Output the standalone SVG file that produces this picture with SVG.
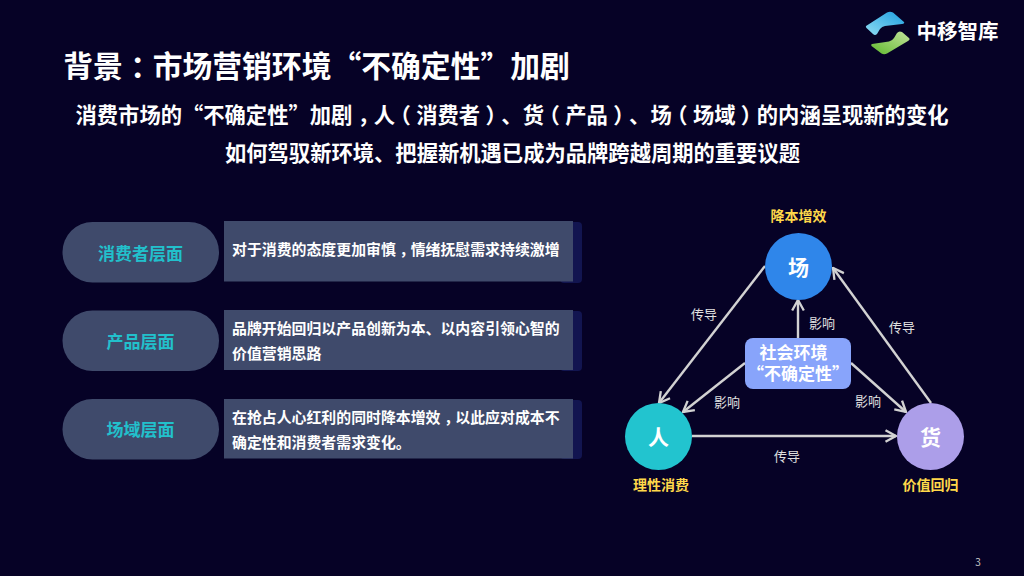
<svg xmlns="http://www.w3.org/2000/svg" width="1024" height="576" viewBox="0 0 1024 576">
<defs>
<linearGradient id="lb" x1="0" y1="1" x2="1" y2="0"><stop offset="0" stop-color="#8fdcf2"/><stop offset="1" stop-color="#1e9fe0"/></linearGradient>
<linearGradient id="lg" x1="0" y1="1" x2="1" y2="0"><stop offset="0" stop-color="#5fb82e"/><stop offset="1" stop-color="#c4e49c"/></linearGradient>
<marker id="arr" markerUnits="userSpaceOnUse" markerWidth="14" markerHeight="14" refX="11" refY="6" orient="auto" viewBox="0 0 12 12"><path d="M2 1L11 6L2 11" fill="none" stroke="#d2d2d2" stroke-width="2"/></marker>
</defs>
<style>
text{font-family:"Noto Sans CJK SC","Noto Sans",sans-serif;text-anchor:middle;text-spacing-trim:space-all}
.h{font-feature-settings:"halt"}
.t1{font-size:29.8px;font-weight:700;fill:#fff}
.t2{font-size:21.3px;font-weight:700;fill:#fff}
.pill{fill:#3f4a6b}
.band{fill:#121550}
.box{fill:#3f4a6b}
.pl{font-size:17px;font-weight:700;fill:#22c0cc}
.bt{font-size:14.9px;font-weight:700;fill:#fff;text-anchor:start}
.ct{font-size:21px;font-weight:700;fill:#fff}
.gl{font-size:14px;font-weight:700;fill:#ffd84a}
.lb{font-size:13px;fill:#e0e0e0}
.cn{font-size:17px;font-weight:700;fill:#fff}
.ln{stroke:#d2d2d2;stroke-width:2.4;fill:none;marker-end:url(#arr)}
</style>
<rect width="1024" height="576" fill="#060226"/>
<g id="logo">
<path d="M866 26L887 12.500Q890 11 893 12.500L904 22Q905 23.500 902 24L885 26Q882 26.500 880 29L877 34Q875 36 873 34L866.500 28Q865.500 27 866 26Z" fill="url(#lb)"/>
<path d="M872 44L889 41.500Q892 41 894 38L897 33Q899 30.500 902 32L909 38Q910.500 39.500 908 41L887 53.500Q884 55 881.500 53.500L871.500 46Q870.500 44.500 872 44Z" fill="url(#lg)"/>
<text x="957.500" y="39" style="font-size:20.500px;font-weight:700;fill:#fff">中移智库</text>
</g>
<g id="title"><text class="t1" x="316.500" y="76.500">背景<tspan class="h" dx="7.500">&#xFF1A;</tspan><tspan dx="7.500">市场营销环境“不确定性”加剧</tspan></text></g>
<g id="subtitle">
<text class="t2" x="512" y="122.500">消费市场的“不确定性”加剧<tspan class="h" dx="5.300">&#xFF0C;</tspan><tspan dx="5.300">人</tspan><tspan class="h" dx="5.300">&#xFF08;</tspan><tspan dx="5.300">消费者</tspan><tspan class="h" dx="5.300">&#xFF09;</tspan><tspan dx="5.300">、货</tspan><tspan class="h" dx="5.300">&#xFF08;</tspan><tspan dx="5.300">产品</tspan><tspan class="h" dx="5.300">&#xFF09;</tspan><tspan dx="5.300">、场</tspan><tspan class="h" dx="5.300">&#xFF08;</tspan><tspan dx="5.300">场域</tspan><tspan class="h" dx="5.300">&#xFF09;</tspan><tspan dx="5.300">的内涵呈现新的变化</tspan></text>
<text class="t2" x="512.500" y="161">如何驾驭新环境、把握新机遇已成为品牌跨越周期的重要议题</text>
</g>
<g id="row1">
<rect class="band" x="560" y="222" width="22" height="61" rx="4"/>
<rect class="pill" x="62.500" y="222" width="156.500" height="60.500" rx="30"/>
<rect class="box" x="224" y="221" width="349" height="60.500"/>
<text class="pl" x="140.500" y="259.500">消费者层面</text>
<text class="bt" x="232" y="254.500">对于消费的态度更加审慎<tspan class="h" dx="3.700">&#xFF0C;</tspan><tspan dx="3.700">情绪抚慰需求持续激增</tspan></text>
</g>
<g id="row2">
<rect class="band" x="560" y="311" width="22" height="60" rx="4"/>
<rect class="pill" x="62.500" y="310.500" width="156.500" height="60.500" rx="30"/>
<rect class="box" x="224" y="310" width="349" height="60"/>
<text class="pl" x="140.500" y="347.500">产品层面</text>
<text class="bt" x="232" y="334">品牌开始回归以产品创新为本、以内容引领心智的</text>
<text class="bt" x="232" y="359">价值营销思路</text>
</g>
<g id="row3">
<rect class="band" x="560" y="400" width="22" height="59" rx="4"/>
<rect class="pill" x="62.500" y="399" width="156.500" height="60.500" rx="30"/>
<rect class="box" x="224" y="399" width="349" height="59.500"/>
<text class="pl" x="140.500" y="436">场域层面</text>
<text class="bt" x="232" y="423">在抢占人心红利的同时降本增效<tspan class="h" dx="3.700">&#xFF0C;</tspan><tspan dx="3.700">以此应对成本不</tspan></text>
<text class="bt" x="232" y="448">确定性和消费者需求变化。</text>
</g>
<g id="connectors">
<path class="ln" d="M765 266L659 403"/>
<path class="ln" d="M931 403L833 268"/>
<path class="ln" d="M692 436L896 436"/>
<path class="ln" d="M798 338L798 300"/>
<path class="ln" d="M745 363L683 412"/>
<path class="ln" d="M851 363L906 412"/>
</g>
<g id="node-chang">
<circle cx="798.500" cy="266.500" r="33.500" fill="#2f86ea"/>
<text class="ct" x="798.500" y="274.500">场</text>
<text class="gl" x="798.500" y="221">降本增效</text>
</g>
<g id="node-ren">
<circle cx="658.500" cy="436.500" r="33.500" fill="#22c4cf"/>
<text class="ct" x="658.500" y="444.500">人</text>
<text class="gl" x="661" y="490">理性消费</text>
</g>
<g id="node-huo">
<circle cx="930.500" cy="436.500" r="33.500" fill="#ac9ee9"/>
<text class="ct" x="930.500" y="444.500">货</text>
<text class="gl" x="930.500" y="490">价值回归</text>
</g>
<g id="node-center">
<rect x="745" y="338" width="106" height="51" rx="8" fill="#88a4fb"/>
<text class="cn"><tspan x="793.500" y="359">社会环境</tspan><tspan x="798" y="380">“不确定性”</tspan></text>
</g>
<g id="labels">
<text class="lb" x="704" y="319">传导</text>
<text class="lb" x="902" y="332">传导</text>
<text class="lb" x="787" y="461">传导</text>
<text class="lb" x="822" y="328">影响</text>
<text class="lb" x="727" y="407">影响</text>
<text class="lb" x="868" y="406">影响</text>
</g>
<text x="978" y="566" style="font-size:10px;fill:#c8c8c8">3</text>
</svg>
